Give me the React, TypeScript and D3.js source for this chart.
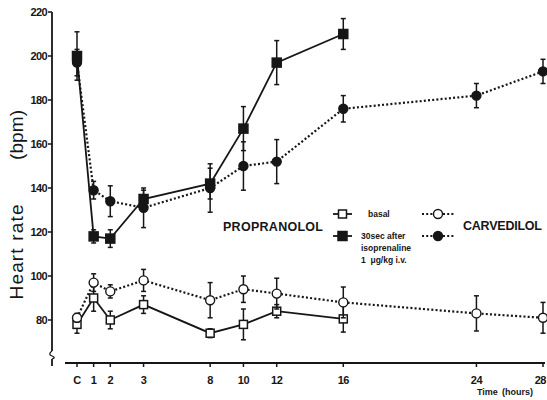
import React, { useEffect, useRef } from "react";
import * as d3 from "d3";

// time points (C = control, shown at 0)
const timeLabels = ["C", "1", "2", "3", "8", "10", "12", "16", "24", "28"];
const times = [0, 1, 2, 3, 8, 10, 12, 16, 24, 28];

// propranolol (measured up to 16 h)
const propBasal = [78, 90, 80, 87, 74, 78, 84, 80.5];
const propBasalErr = [4, 6, 4, 4, 2, 7, 3, 6];
const propIso = [200, 118, 117, 135, 142, 167, 197, 210];
const propIsoErr = [11, 3, 4, 4, 7, 10, 10, 7];

// carvedilol (measured up to 28 h)
const carvBasal = [81, 97, 93, 98, 89, 94, 92, 88, 83, 81];
const carvBasalErr = [2, 4, 3, 5, 8, 6, 7, 7, 8, 7];
const carvIso = [197, 139, 134, 131, 140, 150, 152, 176, 182, 193];
const carvIsoErr = [6, 4, 7, 9, 11, 11, 10, 6, 5.5, 5.5];

const yTicks = [80, 100, 120, 140, 160, 180, 200, 220];

// the original axis is compressed between 2 h and 8 h
const axisBreaks = [0, 2, 3, 8, 28];
const axisUnits = [0, 2, 4, 8, 28];

const ink = "#161616";
const font = "Liberation Sans, Arial, sans-serif";

const App = () => {
    const svgRef = useRef<SVGSVGElement>(null);

    useEffect(() => {
        const svg = d3.select(svgRef.current);
        svg.selectAll("*").remove();

        const width = 547;
        const height = 400;
        const left = 77;
        const right = 543;
        const unit = (right - left) / 28;
        const axisX = 52;
        const axisY = 363;

        svg.attr("width", width).attr("height", height);
        svg.append("rect").attr("width", width).attr("height", height).attr("fill", "#fff");

        const x = d3
            .scaleLinear()
            .domain(axisBreaks)
            .range(axisUnits.map((u) => left + u * unit));
        const y = d3.scaleLinear().domain([80, 220]).range([320, 12]);

        // y axis with break
        const g = svg.append("g").attr("stroke", ink).attr("fill", "none");
        g.append("line").attr("x1", axisX).attr("x2", axisX).attr("y1", y(220)).attr("y2", 351).attr("stroke-width", 1.8);
        g.append("path")
            .attr("d", `M${axisX},351 C${axisX - 3},353 ${axisX - 3},355 ${axisX},356 C${axisX + 3},357 ${axisX + 3},358 ${axisX},359`)
            .attr("stroke-width", 1.3);
        g.append("line").attr("x1", axisX).attr("x2", axisX).attr("y1", 359).attr("y2", 366).attr("stroke-width", 1.8);

        yTicks.forEach((t) => {
            g.append("line")
                .attr("x1", axisX - 4)
                .attr("x2", axisX)
                .attr("y1", y(t))
                .attr("y2", y(t))
                .attr("stroke-width", 1.5);
            svg.append("text")
                .attr("x", axisX - 5)
                .attr("y", y(t))
                .attr("dy", "0.35em")
                .attr("text-anchor", "end")
                .style("font-family", font)
                .style("font-size", "11px")
                .style("font-weight", "bold")
                .style("letter-spacing", "-0.6px")
                .attr("fill", ink)
                .text(t);
        });

        // x axis
        g.append("line").attr("x1", 65).attr("x2", 545).attr("y1", axisY).attr("y2", axisY).attr("stroke-width", 1.8);
        times.forEach((t, i) => {
            const last = i === times.length - 1;
            g.append("line")
                .attr("x1", x(t))
                .attr("x2", x(t))
                .attr("y1", axisY)
                .attr("y2", axisY + 4)
                .attr("stroke-width", 1.5);
            svg.append("text")
                .attr("x", last ? width - 1 : x(t))
                .attr("y", 384)
                .attr("text-anchor", last ? "end" : "middle")
                .style("font-family", font)
                .style("font-size", "11px")
                .style("font-weight", "bold")
                .style("letter-spacing", "-0.5px")
                .attr("fill", ink)
                .text(timeLabels[i]);
        });

        const smallText = (tx, ty, str, size = 8.5, anchor = "start") =>
            svg.append("text")
                .attr("x", tx)
                .attr("y", ty)
                .attr("text-anchor", anchor)
                .style("font-family", font)
                .style("font-size", `${size}px`)
                .style("font-weight", "bold")
                .attr("fill", ink)
                .text(str);

        smallText(477, 395, "Time", 9);
        smallText(502, 395, "(hours)", 9);

        // y title
        const yTitle = (cy, str, len) =>
            svg.append("text")
                .attr("transform", `translate(23, ${cy}) rotate(-90)`)
                .attr("text-anchor", "middle")
                .attr("textLength", len)
                .style("font-family", font)
                .style("font-size", "19px")
                .attr("fill", ink)
                .text(str);
        yTitle(252, "Heart rate", 95);
        yTitle(135, "(bpm)", 50);

        // series
        const series = [
            { values: propBasal, err: propBasalErr, dotted: false, shape: "square", filled: false },
            { values: carvBasal, err: carvBasalErr, dotted: true, shape: "circle", filled: false },
            { values: carvIso, err: carvIsoErr, dotted: true, shape: "circle", filled: true },
            { values: propIso, err: propIsoErr, dotted: false, shape: "square", filled: true },
        ];

        const line = d3
            .line<number>()
            .x((d, i) => x(times[i]))
            .y((d) => y(d));

        const drawLine = (sel, s) => {
            sel.append("path")
                .attr("d", line(s.values))
                .attr("fill", "none")
                .attr("stroke", ink)
                .attr("stroke-width", s.dotted ? 2.2 : 1.8)
                .attr("stroke-dasharray", s.dotted ? "2,2.2" : null);
        };

        const drawMarker = (sel, s, cx, cy) => {
            if (s.shape === "square") {
                const size = s.filled ? 9 : 8;
                sel.append("rect")
                    .attr("x", cx - size / 2)
                    .attr("y", cy - size / 2)
                    .attr("width", size)
                    .attr("height", size)
                    .attr("fill", s.filled ? ink : "#fff")
                    .attr("stroke", ink)
                    .attr("stroke-width", 1.5);
            } else {
                sel.append("circle")
                    .attr("cx", cx)
                    .attr("cy", cy)
                    .attr("r", 4.5)
                    .attr("fill", s.filled ? ink : "#fff")
                    .attr("stroke", ink)
                    .attr("stroke-width", 1.4);
            }
        };

        series.forEach((s) => {
            const sg = svg.append("g");
            // error bars
            s.values.forEach((v, i) => {
                const cx = x(times[i]);
                const top = y(v + s.err[i]);
                const bottom = y(v - s.err[i]);
                sg.append("line").attr("x1", cx).attr("x2", cx).attr("y1", top).attr("y2", bottom)
                    .attr("stroke", ink).attr("stroke-width", 1.5);
                [top, bottom].forEach((cap) => {
                    sg.append("line").attr("x1", cx - 2.5).attr("x2", cx + 2.5).attr("y1", cap).attr("y2", cap)
                        .attr("stroke", ink).attr("stroke-width", 1.5);
                });
            });
            drawLine(sg, s);
            s.values.forEach((v, i) => drawMarker(sg, s, x(times[i]), y(v)));
        });

        // legend
        svg.append("text")
            .attr("x", 223)
            .attr("y", 231)
            .attr("textLength", 100)
            .style("font-family", font)
            .style("font-size", "12.5px")
            .style("font-weight", "bold")
            .attr("fill", ink)
            .text("PROPRANOLOL");
        svg.append("text")
            .attr("x", 463)
            .attr("y", 230)
            .attr("textLength", 79)
            .style("font-family", font)
            .style("font-size", "12.5px")
            .style("font-weight", "bold")
            .attr("fill", ink)
            .text("CARVEDILOL");

        const legendRows = [
            { yy: 214, prop: series[0], carv: series[1] },
            { yy: 236, prop: series[3], carv: series[2] },
        ];
        legendRows.forEach((r) => {
            const lg = svg.append("g");
            lg.append("line").attr("x1", 333).attr("x2", 352).attr("y1", r.yy).attr("y2", r.yy)
                .attr("stroke", ink).attr("stroke-width", 1.8);
            drawMarker(lg, r.prop, 342.5, r.yy);
            lg.append("line").attr("x1", 422).attr("x2", 454).attr("y1", r.yy).attr("y2", r.yy)
                .attr("stroke", ink).attr("stroke-width", 2.2).attr("stroke-dasharray", "2,2.2");
            drawMarker(lg, r.carv, 438, r.yy);
        });

        smallText(368, 217, "basal");
        smallText(361, 239, "30sec after");
        smallText(361, 251, "isoprenaline");
        smallText(361, 263, "1  μg/kg i.v.").attr("xml:space", "preserve");
    }, []);

    return (
        <div style={{ position: "absolute", left: 0, top: 0 }}>
            <svg ref={svgRef} style={{ display: "block" }}></svg>
        </div>
    );
};

export default App;
